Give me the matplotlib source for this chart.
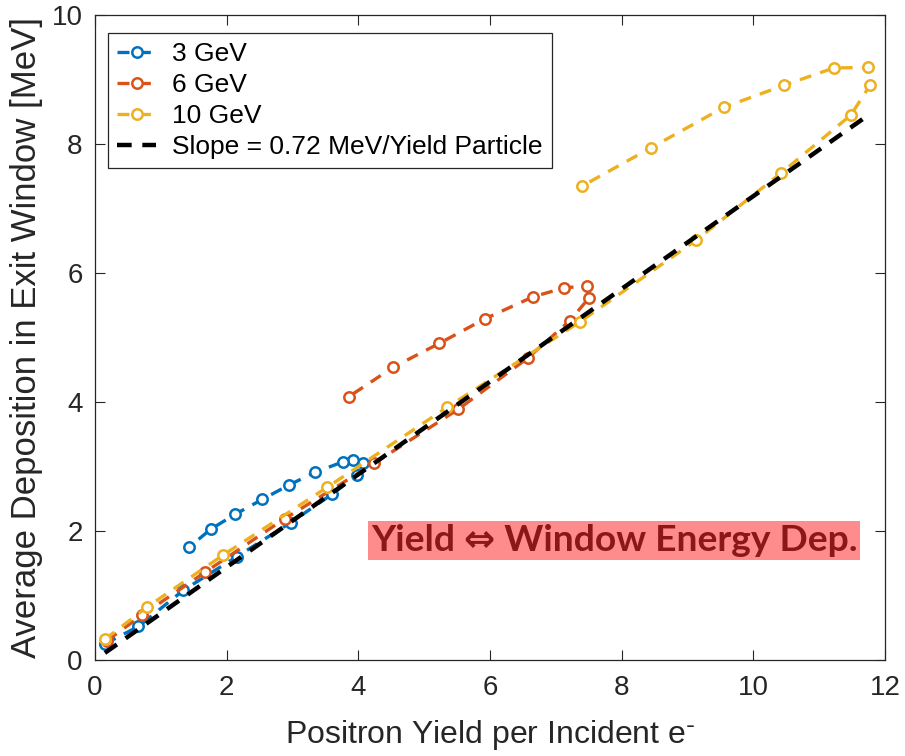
import numpy as np
import matplotlib
matplotlib.use('Agg')
import matplotlib.pyplot as plt

# 3 GeV: lower branch (rising yield) then upper branch back
x3 = [0.15, 0.66, 1.34, 2.15, 2.97, 3.60, 3.98, 4.07, 3.92, 3.76, 3.34, 2.94, 2.54, 2.13, 1.76, 1.43]
y3 = [0.25, 0.52, 1.08, 1.60, 2.13, 2.57, 2.87, 3.06, 3.10, 3.07, 2.91, 2.71, 2.49, 2.26, 2.03, 1.75]

# 6 GeV
x6 = [0.18, 0.72, 1.67, 2.88, 4.24, 5.52, 6.57, 7.21, 7.50, 7.47, 7.12, 6.65, 5.92, 5.23, 4.53, 3.85]
y6 = [0.30, 0.70, 1.36, 2.19, 3.05, 3.89, 4.68, 5.26, 5.61, 5.80, 5.77, 5.63, 5.29, 4.91, 4.54, 4.08]

# 10 GeV
x10 = [0.15, 0.79, 1.95, 3.53, 5.35, 7.36, 9.13, 10.42, 11.48, 11.77, 11.74, 11.22, 10.46, 9.55, 8.44, 7.40]
y10 = [0.32, 0.82, 1.63, 2.68, 3.92, 5.24, 6.51, 7.55, 8.45, 8.91, 9.19, 9.18, 8.91, 8.57, 7.94, 7.35]

# fitted slope line, end points
xfit = [0.15, 11.76]
yfit = [0.11, 8.46]

xticks = [0, 2, 4, 6, 8, 10, 12]
yticks = [0, 2, 4, 6, 8, 10]

plt.rcParams['font.family'] = ['Liberation Sans', 'DejaVu Sans']

fig = plt.figure(figsize=(9.05, 7.56), dpi=100)
ax = fig.add_axes([0.105, 0.127, 0.873, 0.853])

cols = ['#0072BD', '#D95319', '#EDB120']
dash = (3.6, 2.8)
for xs, ys, c, lab in [(x3, y3, cols[0], '3 GeV'),
                       (x6, y6, cols[1], '6 GeV'),
                       (x10, y10, cols[2], '10 GeV')]:
    ax.plot(xs, ys, color=c, lw=2.4, dashes=dash, marker='o', ms=7.5,
            mfc='white', mec=c, mew=1.8, label=lab)
ax.plot(xfit, yfit, color='black', lw=3.2, dashes=(3.3, 2.4),
        label='Slope = 0.72 MeV/Yield Particle')

ax.set_xlim(0, 12)
ax.set_ylim(0, 10)
ax.set_xticks(xticks)
ax.set_yticks(yticks)
ax.tick_params(direction='in', length=7, width=0.8, top=True, right=True,
               labelsize=20, colors='#262626')
ax.tick_params(axis='x', pad=11)
ax.tick_params(axis='y', pad=9)
for s in ax.spines.values():
    s.set_color('#262626')
    s.set_linewidth(0.9)

ax.set_xlabel('Positron Yield per Incident e$^{\\bar{\\ }}$', fontsize=23, color='#262626', labelpad=12)
ax.set_ylabel('Average Deposition in Exit Window [MeV]', fontsize=25, color='#262626', labelpad=6)

leg = ax.legend(loc='upper left', bbox_to_anchor=(0.016, 0.972), borderaxespad=0,
                fontsize=19, handlelength=1.5, handletextpad=0.6, fancybox=False,
                framealpha=1, edgecolor='#262626', borderpad=0.35, labelspacing=0.26)
leg.get_frame().set_linewidth(0.9)

ax.text(0.349, 0.159, 'Yield \u21d4 Window Energy Dep.', transform=ax.transAxes,
        fontsize=26.8, fontweight='bold', color='#8B1717',
        family=['Lato', 'DejaVu Sans'], va='bottom',
        bbox=dict(boxstyle='square,pad=0.08', fc='#FF8C8C', ec='none'))

fig.savefig('out.png', dpi=100)
